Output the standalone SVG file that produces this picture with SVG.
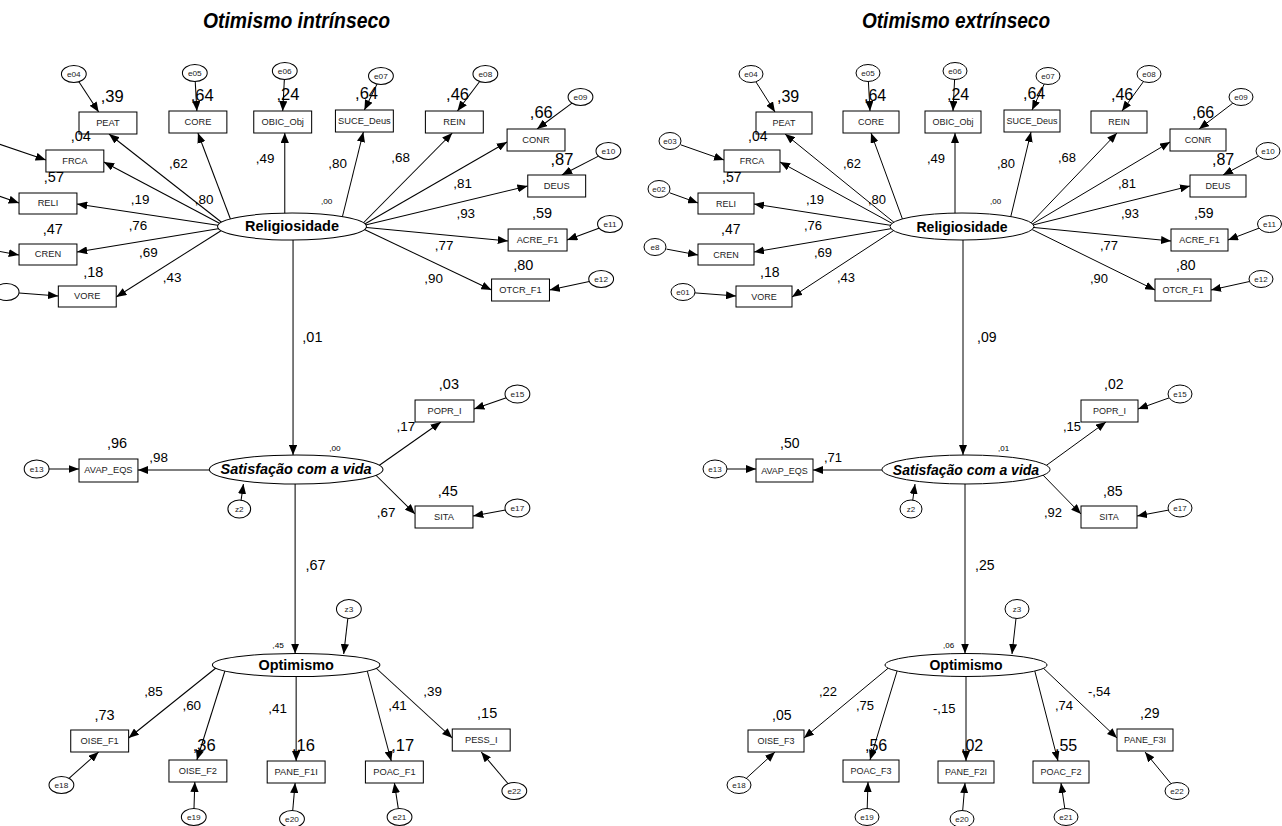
<svg xmlns="http://www.w3.org/2000/svg" width="1282" height="826" viewBox="0 0 1282 826">
<defs>
<marker id="ah" viewBox="0 0 10 8" refX="10" refY="4" markerWidth="10" markerHeight="8" markerUnits="userSpaceOnUse" orient="auto"><path d="M0,0 L10,4 L0,8 z" fill="#000"/></marker>
</defs>
<style>
text{font-family:"Liberation Sans",Arial,sans-serif;fill:#000}
.bx{fill:#fff;stroke:#000;stroke-width:1}
.er{fill:#fff;stroke:#000;stroke-width:1}
.lv{fill:#fff;stroke:#000;stroke-width:1}
.bt{font-size:9px;text-anchor:middle;fill:#222}
.et{font-size:8px;text-anchor:middle;fill:#222}
.lt{font-size:14px;font-weight:bold;text-anchor:middle}
.li{font-size:14px;font-weight:bold;font-style:italic;text-anchor:middle}
.co{font-size:13px}
.r2{font-size:14px}
.rb{font-size:16px}
.sm{font-size:8px}
.c line{stroke:#000;stroke-width:1;marker-end:url(#ah)}
.title{font-size:22px;font-weight:bold;font-style:italic}
</style>
<rect width="1282" height="826" fill="#fff"/>
<text class="title" x="203" y="28" textLength="187" lengthAdjust="spacingAndGlyphs">Otimismo intrínseco</text>
<text class="title" x="862" y="28" textLength="188" lengthAdjust="spacingAndGlyphs">Otimismo extrínseco</text>

<!-- ============ RIGHT MODEL ============ -->
<g id="right-model">
<g id="R-connectors" class="c">
<line x1="755.9" y1="81.8" x2="775" y2="112"/>
<line x1="868.4" y1="81.5" x2="870" y2="111"/>
<line x1="954.6" y1="79.5" x2="953" y2="111"/>
<line x1="1044.2" y1="84.1" x2="1032" y2="110"/>
<line x1="1143.5" y1="81.5" x2="1122" y2="111"/>
<line x1="1232.8" y1="103.2" x2="1199" y2="129"/>
<line x1="1258.4" y1="156.1" x2="1223" y2="175"/>
<line x1="1259.4" y1="228" x2="1228" y2="240"/>
<line x1="1249.5" y1="281.5" x2="1211" y2="290"/>
<line x1="680.7" y1="144.8" x2="724" y2="160"/>
<line x1="669.7" y1="192.8" x2="698" y2="203"/>
<line x1="666.5" y1="249.1" x2="698" y2="255"/>
<line x1="695" y1="292.9" x2="736" y2="296"/>
<line x1="896" y1="224" x2="785" y2="134"/>
<line x1="895" y1="225" x2="780" y2="162"/>
<line x1="895" y1="226" x2="754" y2="204"/>
<line x1="895" y1="228" x2="754" y2="252"/>
<line x1="896" y1="229" x2="792" y2="297"/>
<line x1="905" y1="226" x2="871" y2="133"/>
<line x1="955" y1="220" x2="955" y2="133"/>
<line x1="1009" y1="224" x2="1031" y2="132"/>
<line x1="1029" y1="225" x2="1117" y2="133"/>
<line x1="1029" y1="226" x2="1170" y2="142"/>
<line x1="1029" y1="226" x2="1190" y2="186"/>
<line x1="1029" y1="227" x2="1171" y2="241"/>
<line x1="1029" y1="228" x2="1155" y2="290"/>
<line x1="963" y1="240" x2="963" y2="455"/>
<line x1="886" y1="470" x2="813" y2="470"/>
<line x1="1040" y1="470" x2="1106" y2="422"/>
<line x1="1040" y1="472" x2="1081" y2="514"/>
<line x1="727" y1="469" x2="756" y2="469"/>
<line x1="912.7" y1="500.6" x2="915" y2="484"/>
<line x1="1169.3" y1="397.8" x2="1138" y2="409"/>
<line x1="1168.5" y1="510.1" x2="1137" y2="516"/>
<line x1="965" y1="484" x2="965" y2="653.5"/>
<line x1="1016" y1="618.4" x2="1012" y2="654"/>
<line x1="892" y1="665" x2="804" y2="738"/>
<line x1="898" y1="668" x2="870" y2="760"/>
<line x1="966" y1="670" x2="966" y2="761"/>
<line x1="1034" y1="668" x2="1058" y2="761"/>
<line x1="1040" y1="665" x2="1117" y2="738"/>
<line x1="746.3" y1="778.3" x2="775" y2="752"/>
<line x1="867.2" y1="808.5" x2="868" y2="782"/>
<line x1="962.7" y1="810.5" x2="965" y2="783"/>
<line x1="1064.8" y1="808.6" x2="1061" y2="783"/>
<line x1="1171" y1="783.7" x2="1145" y2="752"/>
</g>

<g id="R-Religiosidade"><ellipse class="lv" cx="962" cy="226.5" rx="72" ry="13.5"/><text class="lt" x="962" y="231.5">Religiosidade</text></g>
<g id="R-Satisfacao"><ellipse class="lv" cx="966" cy="469.5" rx="84" ry="14.5"/><text class="li" x="966" y="474.5">Satisfação com a vida</text></g>
<g id="R-Optimismo"><ellipse class="lv" cx="966" cy="665" rx="81" ry="11.5"/><text class="lt" x="966" y="670">Optimismo</text></g>

<g id="R-PEAT"><rect class="bx" x="756" y="112" width="56" height="22"/><text class="bt" x="784" y="126">PEAT</text></g>
<g id="R-CORE"><rect class="bx" x="843" y="111" width="56" height="22"/><text class="bt" x="871" y="125">CORE</text></g>
<g id="R-OBIC_Obj"><rect class="bx" x="925" y="111" width="56" height="22"/><text class="bt" x="953" y="125">OBIC_Obj</text></g>
<g id="R-SUCE_Deus"><rect class="bx" x="1004" y="110" width="56" height="22"/><text class="bt" x="1032" y="124">SUCE_Deus</text></g>
<g id="R-REIN"><rect class="bx" x="1091" y="111" width="56" height="22"/><text class="bt" x="1119" y="125">REIN</text></g>
<g id="R-CONR"><rect class="bx" x="1170" y="129" width="56" height="22"/><text class="bt" x="1198" y="143">CONR</text></g>
<g id="R-DEUS"><rect class="bx" x="1190" y="175" width="56" height="22"/><text class="bt" x="1218" y="189">DEUS</text></g>
<g id="R-ACRE_F1"><rect class="bx" x="1171" y="229" width="57" height="22"/><text class="bt" x="1199.5" y="243">ACRE_F1</text></g>
<g id="R-OTCR_F1"><rect class="bx" x="1155" y="279" width="56" height="22"/><text class="bt" x="1183" y="293">OTCR_F1</text></g>
<g id="R-FRCA"><rect class="bx" x="724" y="150" width="56" height="22"/><text class="bt" x="752" y="164">FRCA</text></g>
<g id="R-RELI"><rect class="bx" x="698" y="193" width="56" height="21"/><text class="bt" x="726" y="206.5">RELI</text></g>
<g id="R-CREN"><rect class="bx" x="698" y="244" width="56" height="21"/><text class="bt" x="726" y="257.5">CREN</text></g>
<g id="R-VORE"><rect class="bx" x="736" y="286" width="56" height="21"/><text class="bt" x="764" y="299.5">VORE</text></g>
<g id="R-AVAP_EQS"><rect class="bx" x="756" y="459" width="57" height="23"/><text class="bt" x="784.5" y="473.5">AVAP_EQS</text></g>
<g id="R-POPR_I"><rect class="bx" x="1081" y="400" width="57" height="22"/><text class="bt" x="1109.5" y="414">POPR_I</text></g>
<g id="R-SITA"><rect class="bx" x="1081" y="506" width="56" height="22"/><text class="bt" x="1109" y="520">SITA</text></g>
<g id="R-OISE_F3"><rect class="bx" x="748" y="730" width="56" height="22"/><text class="bt" x="776" y="744">OISE_F3</text></g>
<g id="R-POAC_F3"><rect class="bx" x="843" y="760" width="56" height="22"/><text class="bt" x="871" y="774">POAC_F3</text></g>
<g id="R-PANE_F2I"><rect class="bx" x="938" y="761" width="56" height="22"/><text class="bt" x="966" y="775">PANE_F2I</text></g>
<g id="R-POAC_F2"><rect class="bx" x="1033" y="761" width="56" height="22"/><text class="bt" x="1061" y="775">POAC_F2</text></g>
<g id="R-PANE_F3I"><rect class="bx" x="1117" y="729" width="56" height="22"/><text class="bt" x="1145" y="743">PANE_F3I</text></g>

<g id="R-e04"><ellipse class="er" cx="751" cy="74" rx="12" ry="8.5"/><text class="et" x="751" y="77">e04</text></g>
<g id="R-e05"><ellipse class="er" cx="868" cy="73" rx="12" ry="8.5"/><text class="et" x="868" y="76">e05</text></g>
<g id="R-e06"><ellipse class="er" cx="955" cy="71" rx="12" ry="8.5"/><text class="et" x="955" y="74">e06</text></g>
<g id="R-e07"><ellipse class="er" cx="1048" cy="76" rx="12" ry="8.5"/><text class="et" x="1048" y="79">e07</text></g>
<g id="R-e08"><ellipse class="er" cx="1149" cy="74" rx="12" ry="8.5"/><text class="et" x="1149" y="77">e08</text></g>
<g id="R-e09"><ellipse class="er" cx="1241" cy="97" rx="12" ry="8.5"/><text class="et" x="1241" y="100">e09</text></g>
<g id="R-e10"><ellipse class="er" cx="1268" cy="151" rx="12" ry="8.5"/><text class="et" x="1268" y="154">e10</text></g>
<g id="R-e11"><ellipse class="er" cx="1269.5" cy="224" rx="12" ry="8.5"/><text class="et" x="1269.5" y="227">e11</text></g>
<g id="R-e12"><ellipse class="er" cx="1261" cy="279" rx="12" ry="8.5"/><text class="et" x="1261" y="282">e12</text></g>
<g id="R-e03"><ellipse class="er" cx="670" cy="141" rx="11" ry="8.5"/><text class="et" x="670" y="144">e03</text></g>
<g id="R-e02"><ellipse class="er" cx="659" cy="189" rx="11" ry="8.5"/><text class="et" x="659" y="192">e02</text></g>
<g id="R-e8"><ellipse class="er" cx="655" cy="247" rx="11" ry="8.5"/><text class="et" x="655" y="250">e8</text></g>
<g id="R-e01"><ellipse class="er" cx="683" cy="292" rx="12" ry="8.5"/><text class="et" x="683" y="295">e01</text></g>
<g id="R-e13"><ellipse class="er" cx="715" cy="469" rx="12" ry="9"/><text class="et" x="715" y="472">e13</text></g>
<g id="R-z2"><ellipse class="er" cx="911" cy="509" rx="11" ry="9"/><text class="et" x="911" y="512">z2</text></g>
<g id="R-e15"><ellipse class="er" cx="1180" cy="394" rx="12" ry="9"/><text class="et" x="1180" y="397">e15</text></g>
<g id="R-e17"><ellipse class="er" cx="1180" cy="508" rx="12" ry="9"/><text class="et" x="1180" y="511">e17</text></g>
<g id="R-z3"><ellipse class="er" cx="1017" cy="609" rx="12" ry="9.5"/><text class="et" x="1017" y="612">z3</text></g>
<g id="R-e18"><ellipse class="er" cx="739" cy="785" rx="12" ry="8.5"/><text class="et" x="739" y="788">e18</text></g>
<g id="R-e19"><ellipse class="er" cx="867" cy="817" rx="12" ry="8.5"/><text class="et" x="867" y="820">e19</text></g>
<g id="R-e20"><ellipse class="er" cx="962" cy="819" rx="12" ry="8.5"/><text class="et" x="962" y="822">e20</text></g>
<g id="R-e21"><ellipse class="er" cx="1066" cy="817" rx="12" ry="8.5"/><text class="et" x="1066" y="820">e21</text></g>
<g id="R-e22"><ellipse class="er" cx="1177" cy="791" rx="12" ry="8.5"/><text class="et" x="1177" y="794">e22</text></g>

<g id="R-labels">
<text class="rb" x="777" y="102">,39</text>
<text class="rb" x="864" y="101">,64</text>
<text class="rb" x="947" y="100">,24</text>
<text class="rb" x="1023" y="99">,64</text>
<text class="rb" x="1111" y="100">,46</text>
<text class="rb" x="1192" y="118">,66</text>
<text class="rb" x="1212" y="165">,87</text>
<text class="r2" x="1194" y="218">,59</text>
<text class="r2" x="1176" y="270">,80</text>
<text class="r2" x="748" y="141">,04</text>
<text class="r2" x="722" y="182">,57</text>
<text class="r2" x="721" y="234">,47</text>
<text class="r2" x="760" y="277">,18</text>
<text class="co" x="843" y="168">,62</text>
<text class="co" x="868" y="204">,80</text>
<text class="co" x="927" y="163">,49</text>
<text class="co" x="997" y="168">,80</text>
<text class="co" x="1058" y="162">,68</text>
<text class="co" x="1118" y="188">,81</text>
<text class="co" x="1121" y="218">,93</text>
<text class="co" x="1100" y="250">,77</text>
<text class="co" x="1090" y="283">,90</text>
<text class="co" x="806" y="204">,19</text>
<text class="co" x="804" y="230">,76</text>
<text class="co" x="814" y="257">,69</text>
<text class="co" x="837" y="282">,43</text>
<text class="sm" x="990" y="204">,00</text>
<text class="r2" x="977" y="342">,09</text>
<text class="sm" x="998" y="451">,01</text>
<text class="r2" x="780" y="448">,50</text>
<text class="co" x="824" y="462">,71</text>
<text class="r2" x="1104" y="389">,02</text>
<text class="co" x="1063" y="431">,15</text>
<text class="r2" x="1103" y="496">,85</text>
<text class="co" x="1044" y="517">,92</text>
<text class="r2" x="975" y="570">,25</text>
<text class="sm" x="943" y="648">,06</text>
<text class="r2" x="772" y="720">,05</text>
<text class="co" x="819" y="696">,22</text>
<text class="rb" x="865" y="751">,56</text>
<text class="co" x="856" y="710">,75</text>
<text class="rb" x="961" y="751">,02</text>
<text class="co" x="933" y="713">-,15</text>
<text class="rb" x="1055" y="751">,55</text>
<text class="co" x="1055" y="710">,74</text>
<text class="r2" x="1140" y="718">,29</text>
<text class="co" x="1088" y="696">-,54</text>
</g>
</g>

<!-- ============ LEFT MODEL ============ -->
<g id="left-model" transform="matrix(1.034 0 0 1 -702.7 0)">
<g id="L-connectors" class="c">
<line x1="755.9" y1="81.8" x2="775" y2="112"/>
<line x1="868.4" y1="81.5" x2="870" y2="111"/>
<line x1="954.6" y1="79.5" x2="953" y2="111"/>
<line x1="1044.2" y1="84.1" x2="1032" y2="110"/>
<line x1="1143.5" y1="81.5" x2="1122" y2="111"/>
<line x1="1232.8" y1="103.2" x2="1199" y2="129"/>
<line x1="1258.4" y1="156.1" x2="1223" y2="175"/>
<line x1="1259.4" y1="228" x2="1228" y2="240"/>
<line x1="1249.5" y1="281.5" x2="1211" y2="290"/>
<line x1="670" y1="141" x2="724" y2="160"/>
<line x1="659" y1="189" x2="698" y2="203"/>
<line x1="655" y1="247" x2="698" y2="255"/>
<line x1="698" y1="292.9" x2="736" y2="296"/>
<line x1="896" y1="224" x2="785" y2="134"/>
<line x1="895" y1="225" x2="780" y2="162"/>
<line x1="895" y1="226" x2="754" y2="204"/>
<line x1="895" y1="228" x2="754" y2="252"/>
<line x1="896" y1="229" x2="792" y2="297"/>
<line x1="905" y1="226" x2="871" y2="133"/>
<line x1="955" y1="220" x2="955" y2="133"/>
<line x1="1009" y1="224" x2="1031" y2="132"/>
<line x1="1029" y1="225" x2="1117" y2="133"/>
<line x1="1029" y1="226" x2="1170" y2="142"/>
<line x1="1029" y1="226" x2="1190" y2="186"/>
<line x1="1029" y1="227" x2="1171" y2="241"/>
<line x1="1029" y1="228" x2="1155" y2="290"/>
<line x1="963" y1="240" x2="963" y2="455"/>
<line x1="886" y1="470" x2="813" y2="470"/>
<line x1="1040" y1="470" x2="1106" y2="422"/>
<line x1="1040" y1="472" x2="1081" y2="514"/>
<line x1="727" y1="469" x2="756" y2="469"/>
<line x1="912.7" y1="500.6" x2="915" y2="484"/>
<line x1="1169.3" y1="397.8" x2="1138" y2="409"/>
<line x1="1168.5" y1="510.1" x2="1137" y2="516"/>
<line x1="965" y1="484" x2="965" y2="653.5"/>
<line x1="1016" y1="618.4" x2="1012" y2="654"/>
<line x1="892" y1="665" x2="804" y2="738"/>
<line x1="898" y1="668" x2="870" y2="760"/>
<line x1="966" y1="670" x2="966" y2="761"/>
<line x1="1034" y1="668" x2="1058" y2="761"/>
<line x1="1040" y1="665" x2="1117" y2="738"/>
<line x1="746.3" y1="778.3" x2="775" y2="752"/>
<line x1="867.2" y1="808.5" x2="868" y2="782"/>
<line x1="962.7" y1="810.5" x2="965" y2="783"/>
<line x1="1064.8" y1="808.6" x2="1061" y2="783"/>
<line x1="1171" y1="783.7" x2="1145" y2="752"/>
</g>

<g id="L-Religiosidade"><ellipse class="lv" cx="962" cy="226.5" rx="72" ry="13.5"/><text class="lt" x="962" y="231.5">Religiosidade</text></g>
<g id="L-Satisfacao"><ellipse class="lv" cx="966" cy="469.5" rx="84" ry="14.5"/><text class="li" x="966" y="474.5">Satisfação com a vida</text></g>
<g id="L-Optimismo"><ellipse class="lv" cx="966" cy="665" rx="81" ry="11.5"/><text class="lt" x="966" y="670">Optimismo</text></g>

<g id="L-PEAT"><rect class="bx" x="756" y="112" width="56" height="22"/><text class="bt" x="784" y="126">PEAT</text></g>
<g id="L-CORE"><rect class="bx" x="843" y="111" width="56" height="22"/><text class="bt" x="871" y="125">CORE</text></g>
<g id="L-OBIC_Obj"><rect class="bx" x="925" y="111" width="56" height="22"/><text class="bt" x="953" y="125">OBIC_Obj</text></g>
<g id="L-SUCE_Deus"><rect class="bx" x="1004" y="110" width="56" height="22"/><text class="bt" x="1032" y="124">SUCE_Deus</text></g>
<g id="L-REIN"><rect class="bx" x="1091" y="111" width="56" height="22"/><text class="bt" x="1119" y="125">REIN</text></g>
<g id="L-CONR"><rect class="bx" x="1170" y="129" width="56" height="22"/><text class="bt" x="1198" y="143">CONR</text></g>
<g id="L-DEUS"><rect class="bx" x="1190" y="175" width="56" height="22"/><text class="bt" x="1218" y="189">DEUS</text></g>
<g id="L-ACRE_F1"><rect class="bx" x="1171" y="229" width="57" height="22"/><text class="bt" x="1199.5" y="243">ACRE_F1</text></g>
<g id="L-OTCR_F1"><rect class="bx" x="1155" y="279" width="56" height="22"/><text class="bt" x="1183" y="293">OTCR_F1</text></g>
<g id="L-FRCA"><rect class="bx" x="724" y="150" width="56" height="22"/><text class="bt" x="752" y="164">FRCA</text></g>
<g id="L-RELI"><rect class="bx" x="698" y="193" width="56" height="21"/><text class="bt" x="726" y="206.5">RELI</text></g>
<g id="L-CREN"><rect class="bx" x="698" y="244" width="56" height="21"/><text class="bt" x="726" y="257.5">CREN</text></g>
<g id="L-VORE"><rect class="bx" x="736" y="286" width="56" height="21"/><text class="bt" x="764" y="299.5">VORE</text></g>
<g id="L-AVAP_EQS"><rect class="bx" x="756" y="459" width="57" height="23"/><text class="bt" x="784.5" y="473.5">AVAP_EQS</text></g>
<g id="L-POPR_I"><rect class="bx" x="1081" y="400" width="57" height="22"/><text class="bt" x="1109.5" y="414">POPR_I</text></g>
<g id="L-SITA"><rect class="bx" x="1081" y="506" width="56" height="22"/><text class="bt" x="1109" y="520">SITA</text></g>
<g id="L-OISE_F1"><rect class="bx" x="748" y="730" width="56" height="22"/><text class="bt" x="776" y="744">OISE_F1</text></g>
<g id="L-OISE_F2"><rect class="bx" x="843" y="760" width="56" height="22"/><text class="bt" x="871" y="774">OISE_F2</text></g>
<g id="L-PANE_F1I"><rect class="bx" x="938" y="761" width="56" height="22"/><text class="bt" x="966" y="775">PANE_F1I</text></g>
<g id="L-POAC_F1"><rect class="bx" x="1033" y="761" width="56" height="22"/><text class="bt" x="1061" y="775">POAC_F1</text></g>
<g id="L-PESS_I"><rect class="bx" x="1117" y="729" width="56" height="22"/><text class="bt" x="1145" y="743">PESS_I</text></g>

<g id="L-e04"><ellipse class="er" cx="751" cy="74" rx="12" ry="8.5"/><text class="et" x="751" y="77">e04</text></g>
<g id="L-e05"><ellipse class="er" cx="868" cy="73" rx="12" ry="8.5"/><text class="et" x="868" y="76">e05</text></g>
<g id="L-e06"><ellipse class="er" cx="955" cy="71" rx="12" ry="8.5"/><text class="et" x="955" y="74">e06</text></g>
<g id="L-e07"><ellipse class="er" cx="1048" cy="76" rx="12" ry="8.5"/><text class="et" x="1048" y="79">e07</text></g>
<g id="L-e08"><ellipse class="er" cx="1149" cy="74" rx="12" ry="8.5"/><text class="et" x="1149" y="77">e08</text></g>
<g id="L-e09"><ellipse class="er" cx="1241" cy="97" rx="12" ry="8.5"/><text class="et" x="1241" y="100">e09</text></g>
<g id="L-e10"><ellipse class="er" cx="1268" cy="151" rx="12" ry="8.5"/><text class="et" x="1268" y="154">e10</text></g>
<g id="L-e11"><ellipse class="er" cx="1269.5" cy="224" rx="12" ry="8.5"/><text class="et" x="1269.5" y="227">e11</text></g>
<g id="L-e12"><ellipse class="er" cx="1261" cy="279" rx="12" ry="8.5"/><text class="et" x="1261" y="282">e12</text></g>
<g id="L-e01"><ellipse class="er" cx="686" cy="292" rx="12" ry="8.5"/></g>
<g id="L-e13"><ellipse class="er" cx="715" cy="469" rx="12" ry="9"/><text class="et" x="715" y="472">e13</text></g>
<g id="L-z2"><ellipse class="er" cx="911" cy="509" rx="11" ry="9"/><text class="et" x="911" y="512">z2</text></g>
<g id="L-e15"><ellipse class="er" cx="1180" cy="394" rx="12" ry="9"/><text class="et" x="1180" y="397">e15</text></g>
<g id="L-e17"><ellipse class="er" cx="1180" cy="508" rx="12" ry="9"/><text class="et" x="1180" y="511">e17</text></g>
<g id="L-z3"><ellipse class="er" cx="1017" cy="609" rx="12" ry="9.5"/><text class="et" x="1017" y="612">z3</text></g>
<g id="L-e18"><ellipse class="er" cx="739" cy="785" rx="12" ry="8.5"/><text class="et" x="739" y="788">e18</text></g>
<g id="L-e19"><ellipse class="er" cx="867" cy="817" rx="12" ry="8.5"/><text class="et" x="867" y="820">e19</text></g>
<g id="L-e20"><ellipse class="er" cx="962" cy="819" rx="12" ry="8.5"/><text class="et" x="962" y="822">e20</text></g>
<g id="L-e21"><ellipse class="er" cx="1066" cy="817" rx="12" ry="8.5"/><text class="et" x="1066" y="820">e21</text></g>
<g id="L-e22"><ellipse class="er" cx="1177" cy="791" rx="12" ry="8.5"/><text class="et" x="1177" y="794">e22</text></g>

<g id="L-labels">
<text class="rb" x="777" y="102">,39</text>
<text class="rb" x="864" y="101">,64</text>
<text class="rb" x="947" y="100">,24</text>
<text class="rb" x="1023" y="99">,64</text>
<text class="rb" x="1111" y="100">,46</text>
<text class="rb" x="1192" y="118">,66</text>
<text class="rb" x="1212" y="165">,87</text>
<text class="r2" x="1194" y="218">,59</text>
<text class="r2" x="1176" y="270">,80</text>
<text class="r2" x="748" y="141">,04</text>
<text class="r2" x="722" y="182">,57</text>
<text class="r2" x="721" y="234">,47</text>
<text class="r2" x="760" y="277">,18</text>
<text class="co" x="843" y="168">,62</text>
<text class="co" x="868" y="204">,80</text>
<text class="co" x="927" y="163">,49</text>
<text class="co" x="997" y="168">,80</text>
<text class="co" x="1058" y="162">,68</text>
<text class="co" x="1118" y="188">,81</text>
<text class="co" x="1121" y="218">,93</text>
<text class="co" x="1100" y="250">,77</text>
<text class="co" x="1090" y="283">,90</text>
<text class="co" x="806" y="204">,19</text>
<text class="co" x="804" y="230">,76</text>
<text class="co" x="814" y="257">,69</text>
<text class="co" x="837" y="282">,43</text>
<text class="sm" x="990" y="204">,00</text>
<text class="r2" x="972" y="342">,01</text>
<text class="sm" x="998" y="451">,00</text>
<text class="r2" x="783" y="448">,96</text>
<text class="co" x="824" y="462">,98</text>
<text class="r2" x="1104" y="389">,03</text>
<text class="co" x="1063" y="431">,17</text>
<text class="r2" x="1103" y="496">,45</text>
<text class="co" x="1044" y="517">,67</text>
<text class="r2" x="975" y="570">,67</text>
<text class="sm" x="943" y="648">,45</text>
<text class="r2" x="771" y="720">,73</text>
<text class="co" x="819" y="696">,85</text>
<text class="rb" x="866" y="751">,36</text>
<text class="co" x="856" y="710">,60</text>
<text class="rb" x="962" y="751">,16</text>
<text class="co" x="939" y="713">,41</text>
<text class="rb" x="1058" y="751">,17</text>
<text class="co" x="1055" y="710">,41</text>
<text class="r2" x="1141" y="718">,15</text>
<text class="co" x="1089" y="696">,39</text>
</g>
</g>
</svg>
